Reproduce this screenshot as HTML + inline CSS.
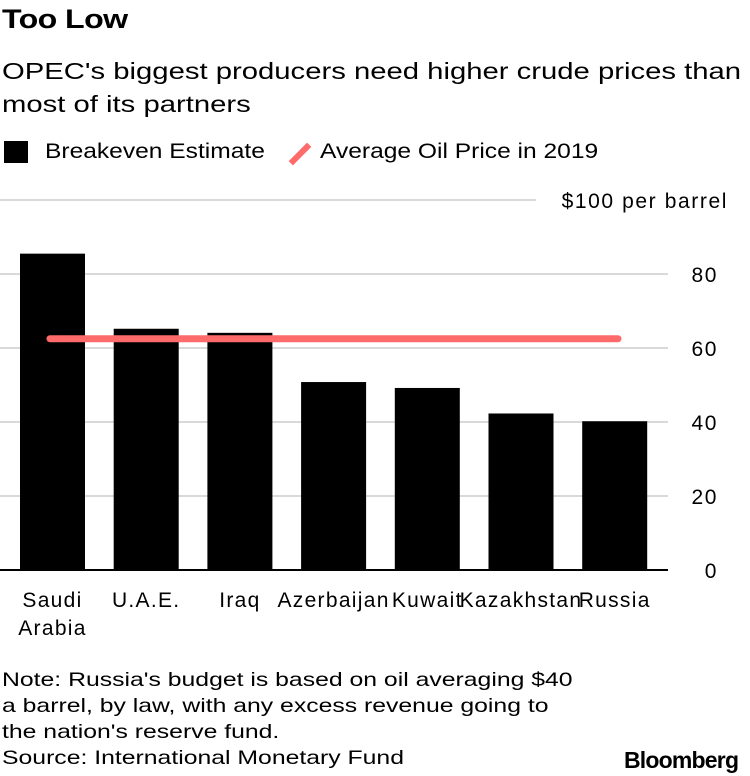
<!DOCTYPE html>
<html><head><meta charset="utf-8"><style>
body{margin:0;width:750px;height:776px;background:#fff;font-family:"Liberation Sans",sans-serif;color:#000;position:relative;overflow:hidden}
.t{position:absolute;white-space:nowrap;transform-origin:0 0;transform:scaleX(1.19)}
</style></head><body>
<div class="t" style="left:2px;top:4px;font-size:27px;font-weight:bold;letter-spacing:-0.5px">Too Low</div>
<div class="t" style="left:2px;top:55px;font-size:23.5px;line-height:33px;transform:scaleX(1.245)">OPEC's biggest producers need higher crude prices than<br>most of its partners</div>
<div style="position:absolute;left:4px;top:141px;width:24px;height:22px;background:#000"></div>
<div class="t" style="left:45px;top:140px;font-size:21px;transform:scaleX(1.17)">Breakeven Estimate</div>
<div style="position:absolute;left:287px;top:151px;width:26px;height:6px;background:#ff6b6b;transform:rotate(-45deg)"></div>
<div class="t" style="left:320px;top:140px;font-size:21px;transform:scaleX(1.17)">Average Oil Price in 2019</div>
<svg id="c" width="750" height="776" style="position:absolute;left:0;top:0"></svg>
<div class="t" style="left:2px;top:667px;font-size:19.5px;line-height:26px;transform:scaleX(1.27)">Note: Russia's budget is based on oil averaging $40<br>a barrel, by law, with any excess revenue going to<br>the nation's reserve fund.<br>Source: International Monetary Fund</div>
<div class="t" style="left:624px;top:747px;font-size:23px;font-weight:bold;letter-spacing:-0.8px;transform:none">Bloomberg</div>
<script>
const categories=["Saudi\nArabia","U.A.E.","Iraq","Azerbaijan","Kuwait","Kazakhstan","Russia"];
const breakeven=[85.5,65.2,64.1,50.8,49.2,42.3,40.2];
const avgPrice=[62.5];
const yTicks=[0,20,40,60,80,100];
const ns="http://www.w3.org/2000/svg",svg=document.getElementById('c');
const y=v=>570-v*3.7, x=i=>20+i*93.7, bw=65;
function mk(t,a){const e=document.createElementNS(ns,t);for(const k in a)e.setAttribute(k,a[k]);svg.appendChild(e);return e;}
yTicks.forEach(v=>{
 const g=mk('line',{x1:0,x2:v==100?536:668,y1:y(v),y2:y(v),stroke:v==0?'#000':'#d9d9d9','stroke-width':2});
 
 
 const t=mk('text',{x:v==100?728:718,y:y(v)+8,'text-anchor':'end','font-size':21,'letter-spacing':'1.6','font-family':'Liberation Sans'});
 t.textContent=v==100?'$100 per barrel':v;
 
 
});
breakeven.forEach((v,i)=>{
 const r=mk('rect',{x:x(i),y:y(v),width:bw,height:y(0)-y(v),fill:'#000'});
 
 
 categories[i].split('\n').forEach((s,j)=>{
  const t=mk('text',{x:x(i)+bw/2,y:607+j*28,'text-anchor':'middle','font-size':21,'letter-spacing':'1.3','font-family':'Liberation Sans'});
  t.textContent=s;
  
  
 });
});
const l=mk('line',{x1:50,x2:618,y1:y(avgPrice[0]),y2:y(avgPrice[0]),stroke:'#ff6b6b','stroke-width':7,'stroke-linecap':'round'});


</script>
</body></html>
